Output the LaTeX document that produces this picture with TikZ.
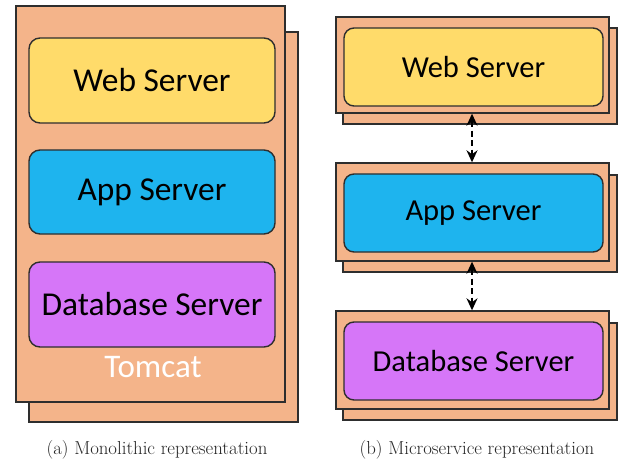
\documentclass[tikz,border=0pt]{standalone}
\usepackage{fontspec}
\setmainfont{Latin Modern Roman}
\newfontfamily\boxfont{Carlito}
\usetikzlibrary{arrows.meta}
\definecolor{tomcatfill}{HTML}{F4B48A}
\definecolor{webfill}{HTML}{FFDB6A}
\definecolor{appfill}{HTML}{1EB4EE}
\definecolor{dbfill}{HTML}{D676F8}
\definecolor{edge}{HTML}{2E2E2E}
\tikzset{
  plate/.style={draw=edge, fill=tomcatfill, line width=1.4pt},
  server/.style={draw=edge, line width=1.4pt, rounded corners=11pt},
  label/.style={font=\boxfont\fontsize{33.4}{38}\selectfont, text=black},
  labelsmall/.style={font=\boxfont\fontsize{30.5}{35}\selectfont, text=black},
  caption/.style={font=\fontsize{18.8}{22}\selectfont, text=black!85},
  link/.style={dashed, dash pattern=on 6pt off 3.5pt, line width=1.6pt,
    {Stealth[length=12pt,width=11pt]}-{Stealth[length=12pt,width=11pt]}}
}
\begin{document}
\begin{tikzpicture}[x=1pt,y=-1pt]
\useasboundingbox (0,0) rectangle (618,465);
\fill[white] (0,0) rectangle (618,465);

% (a) monolithic: one Tomcat container holding all three servers
\draw[plate] (29,32) rectangle (298,422);
\node[plate, minimum width=269pt, minimum height=396pt, inner sep=0pt] (tomcat) at (150.5,204) {};
\node[server, fill=webfill, minimum width=246pt, minimum height=85pt, inner sep=0pt, label] (mweb) at (152,80.5) {Web Server};
\node[server, fill=appfill, minimum width=246pt, minimum height=84pt, inner sep=0pt, label] (mapp) at (152,192) {App Server};
\node[server, fill=dbfill, minimum width=246pt, minimum height=85pt, inner sep=0pt, label] (mdb) at (152,304.5) {Database Server};
\node[font=\boxfont\fontsize{33}{38}\selectfont, text=white] (tomcatlabel) at (153,367) {Tomcat};
\node[caption] (capa) at (157,450) {(a) Monolithic representation};

% (b) microservices: each server in its own container
\draw[plate] (343,28) rectangle (617,124);
\node[plate, minimum width=273pt, minimum height=96pt, inner sep=0pt] (cweb) at (472.5,65) {};
\node[server, fill=webfill, minimum width=259pt, minimum height=78pt, inner sep=0pt, labelsmall, rounded corners=10pt] (sweb) at (473.5,67) {Web Server};

\draw[plate] (343,175) rectangle (617,272);
\node[plate, minimum width=273pt, minimum height=98pt, inner sep=0pt] (capp) at (472.5,212) {};
\node[server, fill=appfill, minimum width=259pt, minimum height=78pt, inner sep=0pt, labelsmall, rounded corners=10pt] (sapp) at (473.5,213) {App Server};

\draw[plate] (343,323) rectangle (617,420);
\node[plate, minimum width=273pt, minimum height=98pt, inner sep=0pt] (cdb) at (472.5,360) {};
\node[server, fill=dbfill, minimum width=259pt, minimum height=78pt, inner sep=0pt, labelsmall, rounded corners=10pt] (sdb) at (473.5,361) {Database Server};

\draw[link] (cweb.south -| 472,0) -- (capp.north -| 472,0);
\draw[link] (capp.south -| 472,0) -- (cdb.north -| 472,0);

\node[caption] (capb) at (477,450) {(b) Microservice representation};
\end{tikzpicture}
\end{document}
